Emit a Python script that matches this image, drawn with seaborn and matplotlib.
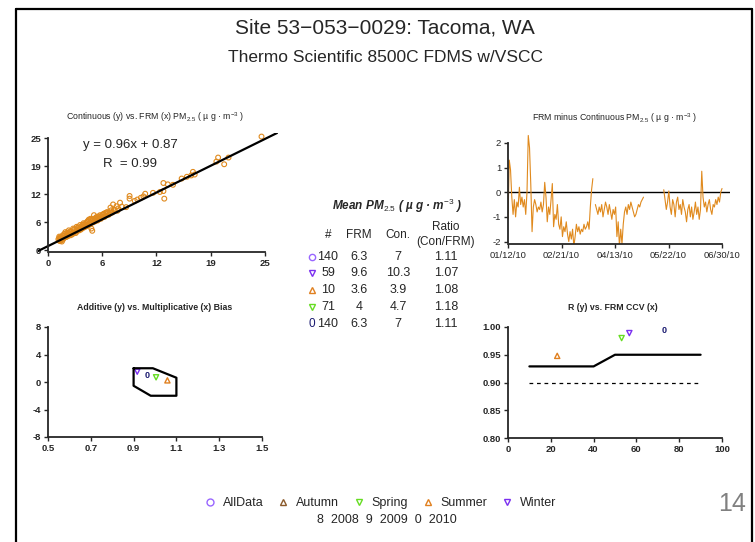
import numpy as np
import pandas as pd
import seaborn as sns
import matplotlib.pyplot as plt
from matplotlib.lines import Line2D
from matplotlib.ticker import FormatStrFormatter

# Continuous (y) vs. FRM (x) daily pairs
frm_values = [
    1.2, 1.3, 1.3, 1.4, 1.5, 1.5, 1.6, 1.7, 1.8, 1.9,
    2.0, 2.1, 2.2, 2.3, 2.4, 2.5, 2.6, 2.7, 2.8, 2.9,
    3.0, 3.1, 3.2, 3.3, 3.4, 3.5, 3.6, 3.7, 3.8, 3.9,
    4.0, 4.1, 4.2, 4.3, 4.4, 4.5, 4.6, 4.7, 4.8, 4.9,
    5.0, 5.0, 5.1, 5.2, 5.3, 5.4, 5.5, 5.6, 5.7, 5.8,
    5.9, 6.0, 6.1, 6.2, 6.4, 6.5, 6.6, 6.8, 7.0, 7.1,
    7.3, 7.5, 7.7, 7.9, 8.1, 8.3, 8.5, 9.0, 9.4, 9.4,
    10.0, 10.3, 10.7, 11.0, 11.2, 12.1, 12.9, 13.3, 13.3, 13.4,
    13.8, 14.4, 15.4, 16.0, 16.5, 16.7, 16.9, 19.4, 19.6, 20.3, 20.8, 24.6,
    1.4, 1.6, 1.8, 2.0, 2.2, 2.4, 2.6, 2.8, 3.0, 3.2,
    3.4, 3.6, 3.8, 4.0, 4.2, 4.4, 4.6, 4.8, 5.0, 5.2,
    5.5, 5.8, 6.0, 6.3, 6.7, 7.2, 7.6, 8.0,
    1.5, 1.7, 2.1, 2.5, 2.9, 3.3, 3.7, 4.1, 4.5, 5.1, 5.4, 6.1, 6.9, 7.4,
    1.3, 2.3, 3.5, 4.7, 5.6, 6.6,
]
con_values = [
    2.4, 3.0, 2.1, 2.5, 2.2, 2.9, 1.9, 3.3, 2.6, 3.6,
    4.0, 2.9, 3.4, 3.1, 4.4, 3.6, 3.3, 4.1, 3.5, 4.8,
    3.9, 4.5, 3.8, 5.2, 4.3, 4.9, 4.4, 5.6, 4.6, 5.0,
    4.9, 6.0, 5.1, 5.5, 5.3, 6.3, 5.5, 5.9, 5.7, 7.0,
    4.8, 6.1, 4.3, 6.2, 7.8, 6.4, 6.6, 7.4, 6.6, 6.8,
    7.1, 7.8, 7.0, 7.3, 8.1, 7.4, 7.6, 8.5, 7.9, 8.2,
    8.9, 10.2, 8.9, 9.8, 9.3, 10.6, 9.7, 9.6, 12.1, 11.5,
    11.0, 11.3, 11.7, 12.0, 12.6, 12.8, 13.0, 15.0, 13.2, 11.5,
    14.7, 14.6, 16.0, 16.4, 16.7, 17.5, 16.9, 19.8, 20.7, 19.2, 20.7, 25.4,
    2.0, 2.7, 3.1, 2.9, 3.9, 3.4, 4.2, 3.8, 4.6, 4.1,
    5.0, 4.7, 5.3, 5.6, 5.8, 6.0, 6.5, 6.2, 6.8, 6.9,
    7.2, 7.5, 7.3, 7.9, 8.0, 9.5, 9.0, 8.8,
    2.5, 2.3, 3.3, 4.0, 3.9, 4.4, 4.9, 5.2, 5.6, 6.5, 7.0, 7.6, 8.3, 8.4,
    2.7, 3.7, 4.5, 6.8, 6.9, 8.3,
]
fit_slope = 0.96
fit_intercept = 0.87
fit_r = 0.99
scatter_ticks = [0, 6.25, 12.5, 18.75, 25]
scatter_tick_labels = ["0", "6", "12", "19", "25"]

# FRM minus continuous, one value per sampling day (nan = no sample)
diff_values = [
    -1.1, 1.3, 0.9, -0.2, -0.9, -0.3, -1.0, -0.4, -0.6, 0.2,
    -0.5, -0.2, -0.6, -0.3, -0.9, 0.0, 2.3, 1.8, 0.3, -1.6,
    -0.6, -0.3, -0.5, -0.8, -0.6, -0.7, -0.4, -0.8, -0.5, 0.4,
    -0.2, -1.2, -0.6, -0.9, -0.3, 0.35, -1.4, -0.9, -1.1, -0.5,
    -1.3, -1.5, -1.0, -1.8, -1.4, -1.6, -1.2, -1.7, -2.0, -1.6,
    -1.9, -1.5, -2.2, -1.8, -1.3, -1.6, -1.4, -1.7, -1.5, -1.6,
    -1.3, -1.5, -1.4, -1.2, -1.5, -0.6, 0.1, 0.55,
    np.nan,
    -0.5, -0.7, -0.9, -0.6, -0.8, -0.5, -1.0, -0.7, -0.4, -0.6,
    -0.9, -0.5, -0.8, -1.1, -0.7, -0.9, -0.6, -1.8, -1.2, -2.2,
    -1.5, -2.1, -1.3, -0.8, -0.6, -0.9, -0.5, -0.7, -0.4, -0.6,
    -0.8, -1.0, -0.9, -0.7, -0.5, -0.6, -0.4, -0.3, -0.2,
    np.nan, np.nan, np.nan, np.nan, np.nan, np.nan, np.nan, np.nan,
    np.nan, np.nan, np.nan, np.nan, np.nan, np.nan, np.nan,
    0.1, -0.3, -0.7, -0.4, 0.05, -0.6, -0.9, -0.3, -0.5, -1.0,
    -0.4, -0.2, -0.7, -0.5, -0.9, -0.3, -0.6, -0.8, -1.2, -0.7,
    -0.5, -1.0, -0.6, -1.1, -0.8, -0.4, -0.9, -0.6, -1.1, -0.7,
    0.85, -0.2, -0.6, -0.4, -0.8, -0.5, -0.3, -0.7, -0.9, -0.5,
    -0.6, -0.3, -0.5, -0.2, -0.4, 0.0, 0.15,
]
date_labels = ["01/12/10", "02/21/10", "04/13/10", "05/22/10", "06/30/10"]

# Additive (y) vs. multiplicative (x) bias
bias_season = ["Winter", "AllData", "Spring", "Summer"]
bias_slope = [0.917, 0.961, 1.005, 1.058]
bias_intercept = [1.5, 1.0, 0.68, 0.24]
bias_limit_x = [0.9, 0.99, 1.1, 1.1, 0.98, 0.9, 0.9]
bias_limit_y = [2.0, 2.0, 0.62, -2.0, -2.0, -0.55, 2.0]

# R (y) vs. FRM CCV (x)
ccv_season = ["Summer", "Spring", "Winter", "AllData"]
ccv_x = [23.0, 53.1, 56.7, 72.9]
ccv_r = [0.948, 0.980, 0.989, 0.993]
r_limit_x = [10, 40, 50, 90]
r_limit_y = [0.929, 0.929, 0.95, 0.95]
r_floor_x = [10, 90]
r_floor_y = [0.90, 0.90]

# Mean PM2.5 table
table_season = ["AllData", "Winter", "Summer", "Spring", "2010"]
table_n = ["140", "59", "10", "71", "140"]
table_frm = ["6.3", "9.6", "3.6", "4", "6.3"]
table_con = ["7", "10.3", "3.9", "4.7", "7"]
table_ratio = ["1.11", "1.07", "1.08", "1.18", "1.11"]

legend_season = ["AllData", "Autumn", "Spring", "Summer", "Winter"]
year_line = "8  2008  9  2009  0  2010"

# Symbol and colour per season
markers = {"AllData": "o", "Autumn": "^", "Spring": "v", "Summer": "^", "Winter": "v"}
colors = {"AllData": "#9966FF", "Autumn": "#8B5A2B", "Spring": "#66DD22",
          "Summer": "#E08020", "Winter": "#7B2FF0"}
year_color = "#1A1A70"
orange = "#E08A1E"
unit = r"PM$_{2.5}$ ( µ g · m$^{-3}$ )"

W, H = 755, 542


def fx(x):
    return x / W


def fy(y):
    return 1 - y / H


sns.set_style("ticks")
plt.rcParams["font.family"] = ["Liberation Sans", "DejaVu Sans"]
plt.rcParams["mathtext.fontset"] = "custom"
plt.rcParams["mathtext.rm"] = "Liberation Sans"
plt.rcParams["mathtext.it"] = "Liberation Sans:italic"
plt.rcParams["axes.unicode_minus"] = False

fig = plt.figure(figsize=(W / 100, H / 100), dpi=100)


def style_axis(ax, weight="bold"):
    sns.despine(ax=ax)
    for s in ("left", "bottom"):
        ax.spines[s].set_linewidth(1.3)
    ax.tick_params(direction="out", length=3, width=1, labelsize=6.8, pad=2)
    for lab in ax.get_xticklabels() + ax.get_yticklabels():
        lab.set_fontweight(weight)


def season_point(ax, season, x, y, size=14):
    if season == "AllData":
        ax.text(x, y, "0", color=year_color, fontsize=6.5, fontweight="bold",
                ha="center", va="center")
        return
    sns.scatterplot(x=[x], y=[y], ax=ax, marker=markers[season], s=size,
                    facecolor="none", edgecolor=colors[season], linewidth=1)


# Frame of the slide
frame = dict(transform=fig.transFigure, color="black", lw=1.6)
fig.add_artist(Line2D([fx(16), fx(16)], [0, fy(9)], **frame))
fig.add_artist(Line2D([fx(16), fx(752)], [fy(9), fy(9)], **frame))
fig.add_artist(Line2D([fx(752), fx(752)], [0, fy(9)], **frame))

fig.text(fx(385), fy(28), "Site 53\u2212053\u22120029: Tacoma, WA", ha="center", va="center", fontsize=15)
fig.text(fx(385), fy(57), "Thermo Scientific 8500C FDMS w/VSCC", ha="center", va="center", fontsize=12.5)

# Scatter panel
ax1 = fig.add_axes([fx(38), fy(253), (278 - 38) / W, (253 - 133) / H])
sns.scatterplot(x=frm_values, y=con_values, ax=ax1, marker="o", s=12,
                facecolor="none", edgecolor=orange, linewidth=0.8)
ax1.axline((0, fit_intercept), slope=fit_slope, color="black", lw=1.6)
ax1.set_xlim(-1.15, 26.5)
ax1.set_ylim(-0.67, 26.2)
ax1.set_xticks(scatter_ticks, scatter_tick_labels)
ax1.set_yticks(scatter_ticks, scatter_tick_labels)
ax1.spines["left"].set_position(("data", 0))
ax1.spines["bottom"].set_position(("data", -0.4))
style_axis(ax1)
ax1.spines["left"].set_bounds(0, 25)
ax1.spines["bottom"].set_bounds(0, 25)
ax1.text(fx(130), fy(145), f"y = {fit_slope:.2f}x + {fit_intercept:.2f}", transform=fig.transFigure,
         ha="center", va="center", fontsize=9.5)
ax1.text(fx(130), fy(164), f"R  = {fit_r:.2f}", transform=fig.transFigure,
         ha="center", va="center", fontsize=9.5)
fig.text(fx(155), fy(117), "Continuous (y) vs. FRM (x) " + unit,
         ha="center", va="center", fontsize=6.3)

# Time series panel
days = np.arange(len(diff_values))
df_diff = pd.DataFrame({"day": days, "diff": diff_values})
df_diff["segment"] = df_diff["diff"].isna().cumsum()
df_diff = df_diff.dropna()
ax2 = fig.add_axes([fx(508), fy(244), (730 - 508) / W, (244 - 133) / H])
ax2.axhline(0, color="black", lw=1)
sns.lineplot(data=df_diff, x="day", y="diff", units="segment", estimator=None,
             ax=ax2, color=orange, lw=0.8)
ax2.set_xlim(0, 175.3)
ax2.set_ylim(-2.1, 2.4)
ax2.set_xticks(np.linspace(0, days[-1], len(date_labels)), date_labels)
ax2.set_yticks([-2, -1, 0, 1, 2])
ax2.set_xlabel("")
ax2.set_ylabel("")
style_axis(ax2, weight="normal")
ax2.spines["left"].set_bounds(-2, 2)
ax2.spines["bottom"].set_bounds(0, days[-1])
fig.text(fx(615), fy(118), "FRM minus Continuous " + unit,
         ha="center", va="center", fontsize=6.3)

# Bias panel
ax3 = fig.add_axes([fx(48), fy(437), 214 / W, 110 / H])
ax3.plot(bias_limit_x, bias_limit_y, color="black", lw=1.6)
for season, x, y in zip(bias_season, bias_slope, bias_intercept):
    season_point(ax3, season, x, y)
ax3.set_xlim(0.5, 1.5)
ax3.set_ylim(-8, 8)
ax3.set_xticks([0.5, 0.7, 0.9, 1.1, 1.3, 1.5])
ax3.set_yticks([-8, -4, 0, 4, 8])
ax3.xaxis.set_major_formatter(FormatStrFormatter("%.1f"))
style_axis(ax3)
fig.text(fx(155), fy(307), "Additive (y) vs. Multiplicative (x) Bias",
         ha="center", va="center", fontsize=6.3, fontweight="bold")

# R vs CCV panel
ax4 = fig.add_axes([fx(508), fy(438), 214 / W, 111 / H])
sns.lineplot(x=r_limit_x, y=r_limit_y, ax=ax4, color="black", lw=1.6)
sns.lineplot(x=r_floor_x, y=r_floor_y, ax=ax4, color="black", lw=0.9, linestyle=(0, (3, 3)))
for season, x, y in zip(ccv_season, ccv_x, ccv_r):
    season_point(ax4, season, x, y)
ax4.set_xlim(0, 100)
ax4.set_ylim(0.8, 1.0)
ax4.set_xticks([0, 20, 40, 60, 80, 100])
ax4.set_yticks([0.80, 0.85, 0.90, 0.95, 1.00])
ax4.yaxis.set_major_formatter(FormatStrFormatter("%.2f"))
style_axis(ax4)
fig.text(fx(613), fy(307), "R (y) vs. FRM CCV (x)",
         ha="center", va="center", fontsize=6.3, fontweight="bold")

# Mean PM2.5 table in the middle
fig.text(fx(397), fy(206), "Mean " + unit,
         ha="center", va="center", fontsize=8.5, fontweight="bold", style="italic")
for x, lab in [(328, "#"), (359, "FRM"), (398, "Con.")]:
    fig.text(fx(x), fy(235), lab, ha="center", va="center", fontsize=8.5)
fig.text(fx(446), fy(227), "Ratio", ha="center", va="center", fontsize=8.5)
fig.text(fx(446), fy(242), "(Con/FRM)", ha="center", va="center", fontsize=8.5)
row_y = [257, 273, 290, 307, 324]
for i, season in enumerate(table_season):
    y = fy(row_y[i])
    if season in markers:
        fig.add_artist(Line2D([fx(312)], [y], transform=fig.transFigure, marker=markers[season],
                              ls="none", mfc="none", mec=colors[season], ms=4.5, mew=1))
    else:
        fig.text(fx(312), y, "0", color=year_color, ha="center", va="center", fontsize=8.5)
    fig.text(fx(328), y, table_n[i], ha="center", va="center", fontsize=9)
    fig.text(fx(359), y, table_frm[i], ha="center", va="center", fontsize=9)
    fig.text(fx(398), y, table_con[i], ha="center", va="center", fontsize=9)
    fig.text(fx(446), y, table_ratio[i], ha="center", va="center", fontsize=9)

# Legend at the bottom
handles = [Line2D([], [], marker=markers[s], ls="none", mfc="none", mec=colors[s], ms=5, mew=1)
           for s in legend_season]
fig.legend(handles, legend_season, loc="center", bbox_to_anchor=(fx(380), fy(503)), ncol=5,
           frameon=False, fontsize=9, handletextpad=0.5, columnspacing=1.1, handlelength=1.0)
fig.text(fx(387), fy(520), year_line, ha="center", va="center", fontsize=9)

fig.text(fx(732), fy(504), "14", ha="center", va="center", fontsize=18, color="#808080")

fig.savefig("out.png", dpi=100)
